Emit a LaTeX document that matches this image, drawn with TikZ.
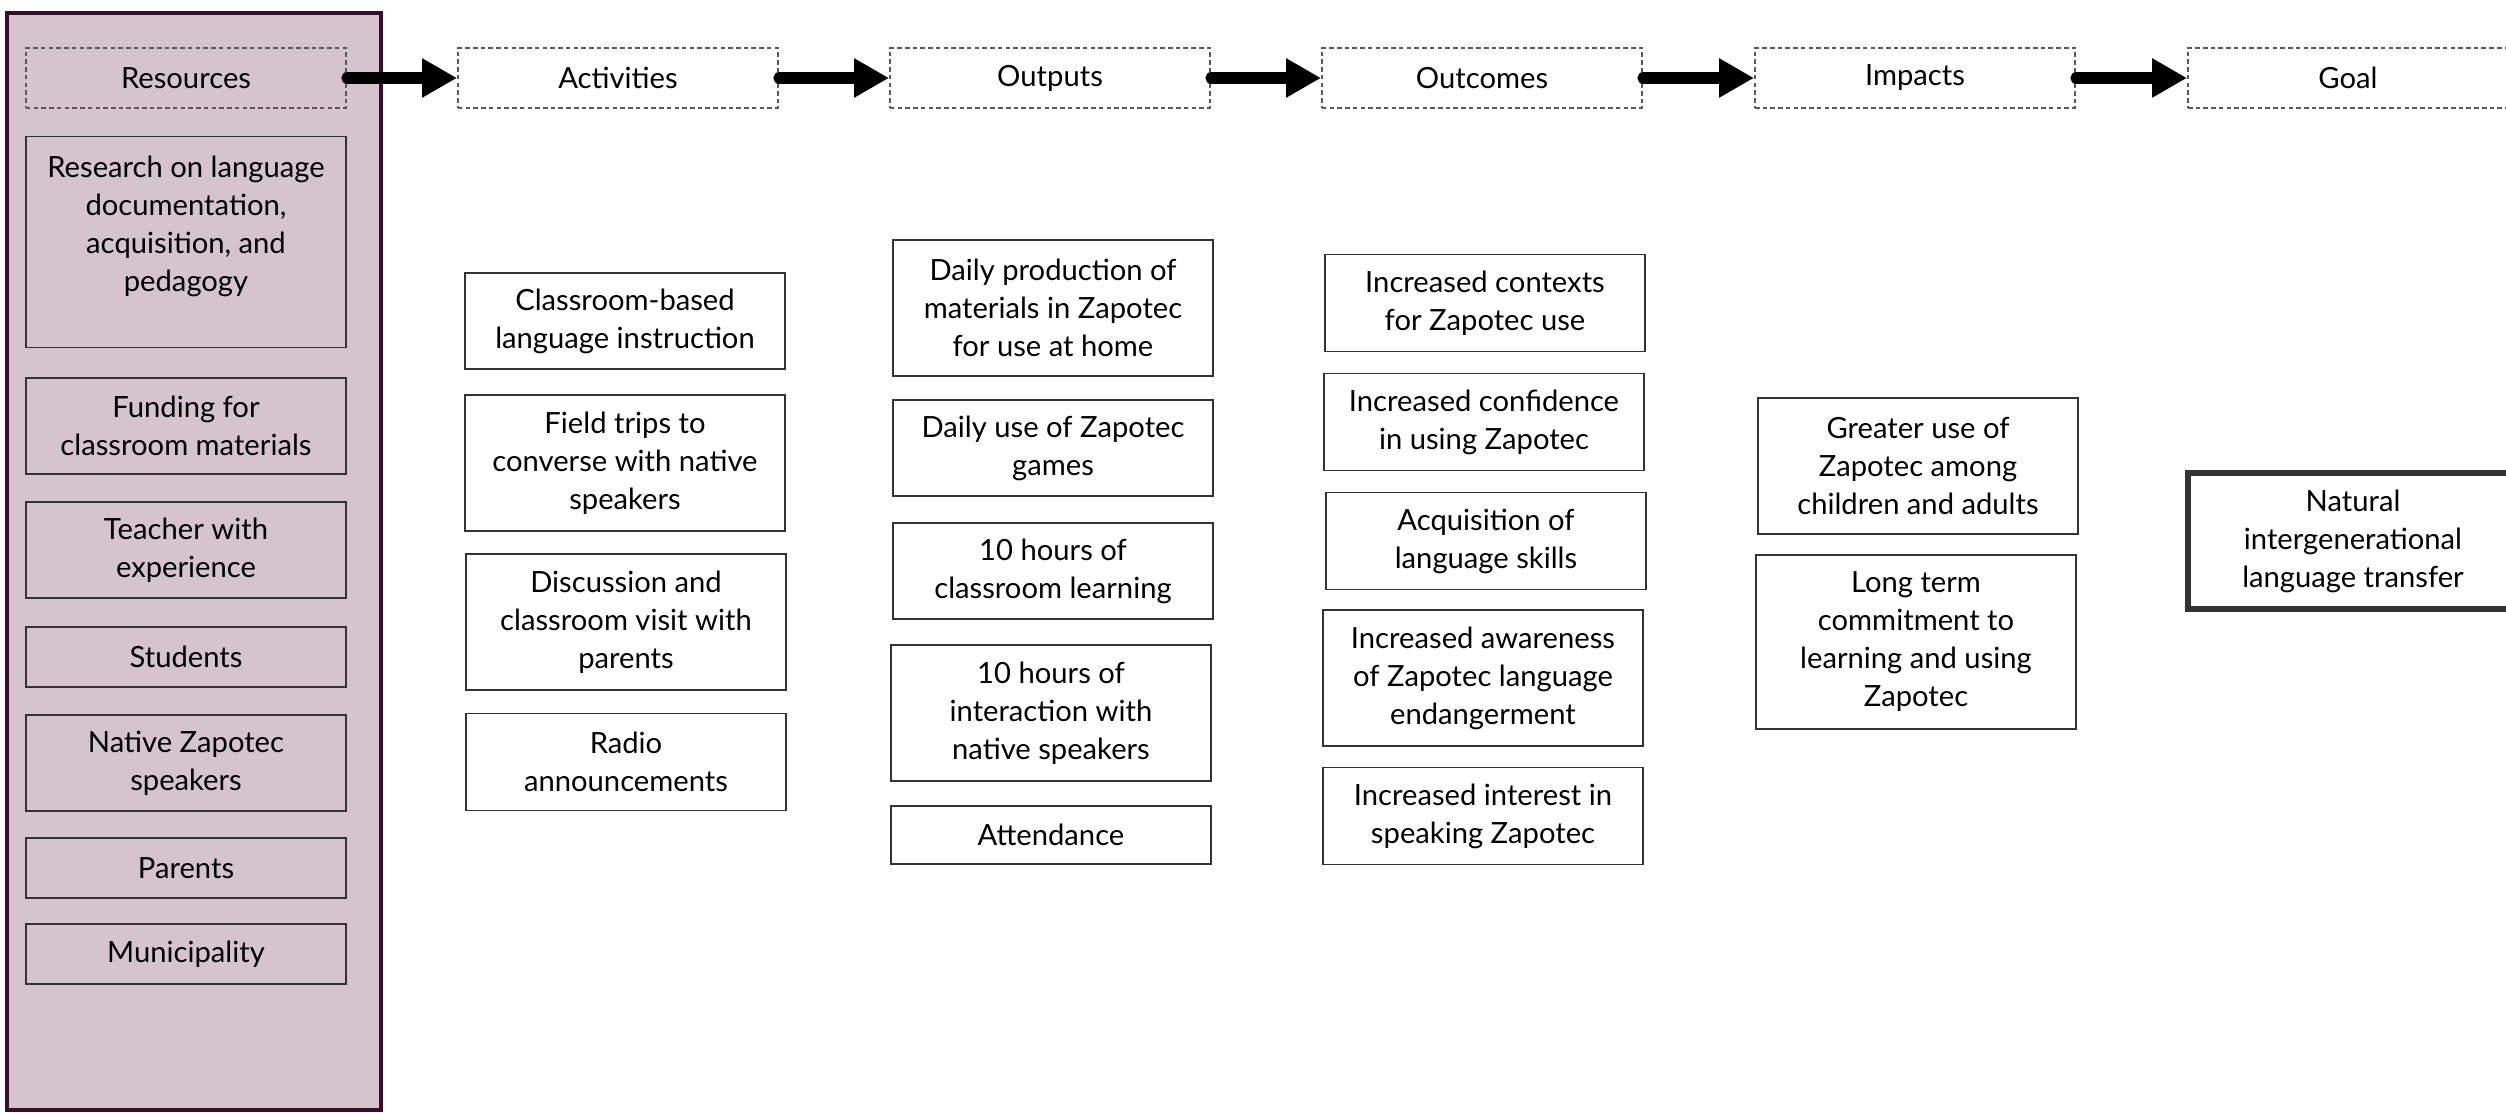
\documentclass[tikz,border=0pt]{standalone}
\usepackage{fontspec}
\setmainfont{Lato}
\usetikzlibrary{arrows.meta}
\definecolor{resmauve}{RGB}{213,196,204}
\definecolor{respurple}{RGB}{58,12,40}

\begin{document}
\begin{tikzpicture}[x=0.01cm, y=-0.01cm,
		box/.style={draw=black!80, line width=0.5pt, align=center, inner sep=0pt, minimum width=3.2cm, font=\fontsize{8.3}{10.8}\selectfont},
		headbox/.style={box, draw=black!65, dash pattern=on 1.3pt off 0.9pt, minimum height=0.6cm},
		flow/.style={line width=3.2pt, line cap=round, -{Triangle[length=0.35cm, width=0.37cm]}}]
			\useasboundingbox (0,0) rectangle (2506,1113);
			\filldraw[draw=respurple, fill=resmauve, line width=1.4pt] (7,13) rectangle (381,1110);
			\node[headbox] (hres) at (186,78) {Resources};
			\node[headbox] (hact) at (618,78) {Activities};
			\node[headbox] (hout) at (1050,78) {Outputs};
			\node[headbox] (houtc) at (1482,78) {Outcomes};
			\node[headbox] (himp) at (1915,78) {Impacts};
			\node[headbox] (hgoal) at (2348,78) {Goal};
			\draw[flow] (hres) -- (hact);
			\draw[flow] (hact) -- (hout);
			\draw[flow] (hout) -- (houtc);
			\draw[flow] (houtc) -- (himp);
			\draw[flow] (himp) -- (hgoal);
			\node[box, minimum height=2.11cm] (research) at (186,242) {Research on language\\documentation,\\acquisition, and\\pedagogy\\[-0.12cm]\strut};
			\node[box, minimum height=0.96cm] (funding) at (186,426) {Funding for\\classroom materials};
			\node[box, minimum height=0.96cm] (teacher) at (186,550) {Teacher with\\experience};
			\node[box, minimum height=0.6cm] (students) at (186,657) {Students};
			\node[box, minimum height=0.96cm] (speakers) at (186,763) {Native Zapotec\\speakers};
			\node[box, minimum height=0.6cm] (parents) at (186,868) {Parents};
			\node[box, minimum height=0.6cm] (municipality) at (186,954) {Municipality};
			\node[box, minimum height=0.96cm] (classroom) at (625,321) {Classroom-based\\language instruction};
			\node[box, minimum height=1.36cm] (fieldtrips) at (625,463) {Field trips to\\converse with native\\speakers};
			\node[box, minimum height=1.36cm] (discussion) at (626,622) {Discussion and\\classroom visit with\\parents};
			\node[box, minimum height=0.97cm] (radio) at (626,762) {Radio\\announcements};
			\node[box, minimum height=1.36cm] (production) at (1053,308) {Daily production of\\materials in Zapotec\\for use at home};
			\node[box, minimum height=0.96cm] (games) at (1053,448) {Daily use of Zapotec\\games};
			\node[box, minimum height=0.96cm] (classhours) at (1053,571) {10 hours of\\classroom learning};
			\node[box, minimum height=1.36cm] (interaction) at (1051,713) {10 hours of\\interaction with\\native speakers};
			\node[box, minimum height=0.58cm] (attendance) at (1051,835) {Attendance};
			\node[box, minimum height=0.97cm] (contexts) at (1485,303) {Increased contexts\\for Zapotec use};
			\node[box, minimum height=0.97cm] (confidence) at (1484,422) {Increased confidence\\in using Zapotec};
			\node[box, minimum height=0.97cm] (skills) at (1486,541) {Acquisition of\\language skills};
			\node[box, minimum height=1.36cm] (awareness) at (1483,678) {Increased awareness\\of Zapotec language\\endangerment};
			\node[box, minimum height=0.97cm] (interest) at (1483,816) {Increased interest in\\speaking Zapotec};
			\node[box, minimum height=1.36cm] (greateruse) at (1918,466) {Greater use of\\Zapotec among\\children and adults};
			\node[box, minimum height=1.74cm] (commitment) at (1916,642) {Long term\\commitment to\\learning and using\\Zapotec};
			\node[box, line width=1.7pt, minimum width=3.3cm, minimum height=1.36cm] (transfer) at (2353,541) {Natural\\intergenerational\\language transfer};
	\end{tikzpicture}
\end{document}
